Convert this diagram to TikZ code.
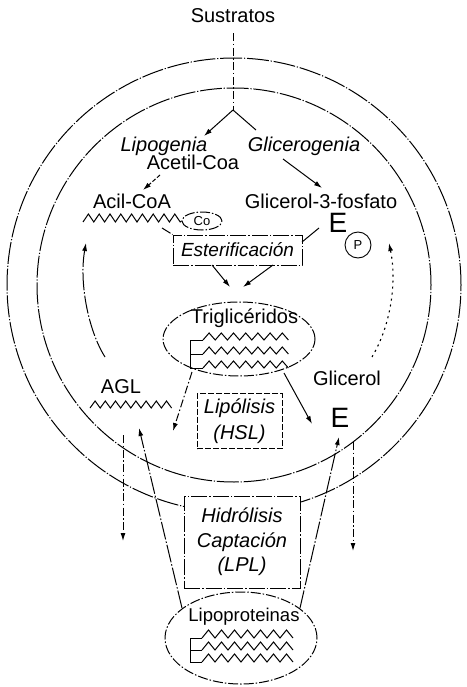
\documentclass[tikz,border=0pt]{standalone}
\usepackage{fontspec}
\setmainfont{Liberation Sans}
\usetikzlibrary{arrows.meta,shapes.geometric}
\begin{document}
\begin{tikzpicture}[x=1pt,y=-1pt,
  every node/.style={inner sep=0pt, font=\fontsize{20}{24.5}\selectfont},
  lbl/.style={anchor=base},
  ital/.style={anchor=base, font=\fontsize{20}{24.5}\selectfont\itshape},
  bigE/.style={anchor=base, font=\fontsize{28}{30}\selectfont},
  small/.style={font=\fontsize{13}{14}\selectfont},
  ln/.style={line width=1pt},
  tip/.style={-{Latex[length=8pt,width=5pt]}},
  circ/.style={line width=1pt, dash pattern=on 22pt off 1.8pt on 1.2pt off 1.8pt},
  dd/.style={line width=1pt, dash pattern=on 8pt off 2.5pt on 1.5pt off 2.5pt},
  ddlong/.style={line width=1pt, dash pattern=on 18pt off 2pt on 1.5pt off 2pt},
  dashbox/.style={draw, line width=1pt, dash pattern=on 6pt off 2pt, fill=white, align=center},
  ddbox/.style={draw, line width=1pt, dash pattern=on 16pt off 2pt on 1.5pt off 2pt, fill=white, align=center},
  dotted2/.style={line width=1.1pt, dash pattern=on 2pt off 4pt},
  oval/.style={ellipse, draw, line width=1pt, dash pattern=on 10pt off 2pt on 1.5pt off 2pt}
]
\useasboundingbox (0,0) rectangle (466,687);

% membranes
\draw[circ] (234,285) circle[radius=227pt];
\draw[circ] (234,285) circle[radius=197pt];

% texts
\node[lbl] (sus) at (233,23) {Sustratos};
\node[ital] (lipo) at (164,152) {Lipogenia};
\node[ital] (glic) at (304,152) {Glicerogenia};
\node[lbl] (acetil) at (193,170) {Acetil-Coa};
\node[lbl] (acil) at (132,208) {Acil-CoA};
\node[lbl] (g3p) at (321,208) {Glicerol-3-fosfato};
\node[bigE] (E1) at (338,232) {E};
\node[circle, draw, line width=0.9pt, minimum size=26pt, small] (P) at (358,245) {P};
\node[oval, minimum width=40pt, minimum height=18pt, small] (Co) at (202,221) {Co};

% fork
\coordinate (fork) at (233,110);
\coordinate (lipoin) at (204,136);
\coordinate (glicin) at (256,130);
\draw[dd] ([yshift=-10pt]sus.south) -- (fork);
\draw[ln,tip] (fork) -- (lipoin);
\draw[ln] (fork) -- (glicin);

% acetil -> acil
\coordinate (a1) at (160,175);
\coordinate (a2) at (143,190);
\draw[ln,tip,dash pattern=on 4pt off 2pt] (a1) -- (a2);
% glicerogenia -> g3p
\coordinate (g1) at (283,159);
\coordinate (g2) at (322,188);
\draw[ln,tip] (g1) -- (g2);

% acyl chain
\draw[ln] (83,222) \foreach \i in {1,...,9}{ -- ++(5.4,-8) -- ++(5.4,8)} -- (Co.west);

% esterificacion
\node[ddbox, minimum width=129pt, minimum height=30pt, font=\fontsize{19}{22}\selectfont\itshape] (est) at (237.5,250) {Esterificación};
\coordinate (c1) at (162,228);
\draw[ln, dash pattern=on 10pt off 2pt] (c1) -- (est.north west);
\coordinate (e1a) at (319,228);
\coordinate (e1b) at (302,242);
\draw[ln] (e1a) -- (e1b);

% trigliceridos
\node[oval, minimum width=152pt, minimum height=74pt] (tg) at (239,339) {};
\node[lbl] (tgt) at (244.5,323) {Triglicéridos};
\foreach \yy in {340,354,368}{
  \draw[ln] (203,\yy) \foreach \i in {1,...,7}{ -- ++(6.1,-7) -- ++(6.1,7)};
}
\draw[ln] (203,340) -- (190,340) -- (190,368) -- (203,368) (190,354) -- (203,354);

\coordinate (s1) at (212,265);
\coordinate (s2) at (230,287);
\coordinate (s3) at (273,265);
\coordinate (s4) at (243,287);
\draw[ln,tip] (s1) -- (s2);
\draw[ln,tip] (s3) -- (s4);

% AGL
\node[lbl] (agl) at (121,393) {AGL};
\draw[ln] (90,408) \foreach \i in {1,...,8}{ -- ++(5.1,-7) -- ++(5.1,7)};

% Glicerol
\node[lbl] (glicerol) at (347,385) {Glicerol};
\node[bigE] (E2) at (340,427) {E};

% Lipolisis
\node[dashbox, minimum width=85pt, minimum height=55pt, font=\fontsize{20}{26}\selectfont\itshape] (lip) at (239.5,421) {Lipólisis\\(HSL)};

% tg -> lipolysis products
\coordinate (t1) at (192,372);
\coordinate (t2) at (173,431);
\draw[dd,tip] (t1) -- (t2);
\coordinate (t3) at (284,373);
\coordinate (t4) at (312,424);
\draw[ln,tip] (t3) -- (t4);

% recycling arcs
\coordinate (r1) at (105,357);
\coordinate (r2) at (86,243);
\draw[ddlong,tip] (r1) .. controls (88,330) and (79,282) .. (r2);
\coordinate (q1) at (372,357);
\coordinate (q2) at (389,243);
\draw[dotted2,tip] (q1) .. controls (391,325) and (397,282) .. (q2);

% outflow arrows
\coordinate (o1) at (123,435);
\coordinate (o2) at (123,541);
\draw[dd,tip] (o1) -- (o2);
\coordinate (o3) at (353,442);
\coordinate (o4) at (353,551);
\draw[dd,tip] (o3) -- (o4);

% Hidrolisis box
\node[ddbox, minimum width=116pt, minimum height=92pt, font=\fontsize{20}{24.5}\selectfont\itshape] (hid) at (242,542) {Hidrólisis\\Captación\\(LPL)};

% Lipoproteinas
\node[oval, minimum width=152pt, minimum height=92pt] (lp) at (241,638) {};
\node[lbl, font=\fontsize{18.5}{20}\selectfont] (lpt) at (244,621) {Lipoproteinas};
\foreach \yy in {638,650,662}{
  \draw[ln] (202,\yy) \foreach \i in {1,...,7}{ -- ++(6.5,-8) -- ++(6.5,8)};
}
\draw[ln] (202,638) -- (190,638) -- (190,662) -- (202,662) (190,650) -- (202,650);

\coordinate (l1) at (182,608);
\coordinate (l2) at (139,428);
\draw[ddlong,tip] (l1) -- (l2);
\coordinate (l3) at (300,608);
\coordinate (l4) at (339,437);
\draw[ddlong,tip] (l3) -- (l4);
\end{tikzpicture}
\end{document}
